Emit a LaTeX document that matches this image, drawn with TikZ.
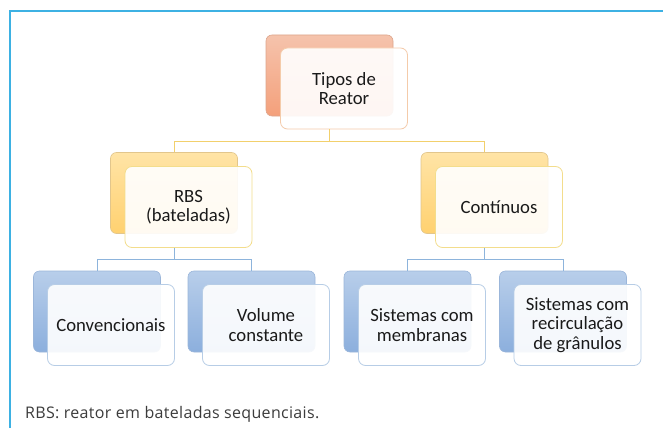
\documentclass[tikz,border=0pt]{standalone}
\usepackage{fontspec}
\setmainfont{Carlito}
\newfontfamily\capfont[LetterSpace=2]{Open Sans}
\definecolor{frameblue}{HTML}{3DB1E3}
\definecolor{orTop}{HTML}{F5C3AC}
\definecolor{orBot}{HTML}{F4A07B}
\definecolor{orEdge}{HTML}{DDA58C}
\definecolor{orFront}{HTML}{F4CBAA}
\definecolor{yeTop}{HTML}{FFE4A6}
\definecolor{yeBot}{HTML}{FFD170}
\definecolor{yeEdge}{HTML}{E2C68C}
\definecolor{yeFront}{HTML}{F3DD8C}
\definecolor{blTop}{HTML}{B8CEEA}
\definecolor{blBot}{HTML}{8CAFDD}
\definecolor{blEdge}{HTML}{9BB6DA}
\definecolor{blFront}{HTML}{B7CDE6}
\definecolor{yeLine}{HTML}{F2D06C}
\definecolor{blLine}{HTML}{8DB4DC}
\definecolor{txt}{HTML}{1A1A1A}
\definecolor{captxt}{HTML}{3C3C3C}
\begin{document}
\begin{tikzpicture}[x=1pt,y=-1pt,
  backbox/.style={rectangle,rounded corners=6pt,minimum width=127pt,minimum height=81pt,inner sep=0pt,line width=0.6pt},
  orback/.style={backbox,draw=orEdge,top color=orTop,bottom color=orBot},
  yeback/.style={backbox,draw=yeEdge,top color=yeTop,bottom color=yeBot},
  blback/.style={backbox,draw=blEdge,top color=blTop,bottom color=blBot},
  frontbox/.style={rectangle,rounded corners=7pt,minimum width=127pt,minimum height=81pt,inner sep=2pt,
     line width=0.8pt,fill=white,fill opacity=0.91,text opacity=1,text=txt,align=center,
     font=\fontsize{18.7}{19.5}\selectfont},
  orfront/.style={frontbox,draw=orFront},
  yefront/.style={frontbox,draw=yeFront},
  blfront/.style={frontbox,draw=blFront},
  yeconn/.style={draw=yeLine,line width=0.9pt},
  blconn/.style={draw=blLine,line width=0.9pt}]
\useasboundingbox (0,0) rectangle (663,428);
\fill[white] (0,0) rectangle (663,428);
% frame
\draw[frameblue,line width=1.6pt] (10,428) -- (10,11) -- (663,11);

% level 1
\node[orback] (tB) at (329.5,75.5) {};
\node[orfront] (t) at (344,88.5) {Tipos de\\Reator};

% level 2
\node[yeback] (rB) at (174,193) {};
\node[yefront] (r) at (188.5,207) {RBS\\(bateladas)};
\node[yeback] (cB) at (484.5,193) {};
\node[yefront] (c) at (499,207) {Contínuos};

% level 3
\node[blback] (aB) at (97,311.5) {};
\node[blfront] (a) at (111,325) {Convencionais};
\node[blback] (vB) at (251.5,311.5) {};
\node[blfront] (v) at (266,325) {Volume\\constante};
\node[blback] (mB) at (407.5,311.5) {};
\node[blfront] (m) at (422,325) {Sistemas com\\membranas};
\node[blback] (gB) at (563,311.5) {};
\node[blfront] (g) at (577.5,325) {Sistemas com\\recirculação\\de grânulos};

% connectors
\coordinate (bus1) at (0,141.5);
\coordinate (bus2) at (0,259);
\draw[yeconn] (tB.south |- t.south) -- (tB.south |- bus1) -| (rB.north);
\draw[yeconn] (tB.south |- bus1) -| (cB.north);
\draw[blconn] (rB.south |- r.south) -- (rB.south |- bus2) -| (aB.north);
\draw[blconn] (rB.south |- bus2) -| (vB.north);
\draw[blconn] (cB.south |- c.south) -- (cB.south |- bus2) -| (mB.north);
\draw[blconn] (cB.south |- bus2) -| (gB.north);

% caption
\node[anchor=base west,inner sep=0pt,text=captxt,font=\capfont\fontsize{16}{18}\selectfont] (cap) at (25,418) {RBS: reator em bateladas sequenciais.};
\end{tikzpicture}
\end{document}
